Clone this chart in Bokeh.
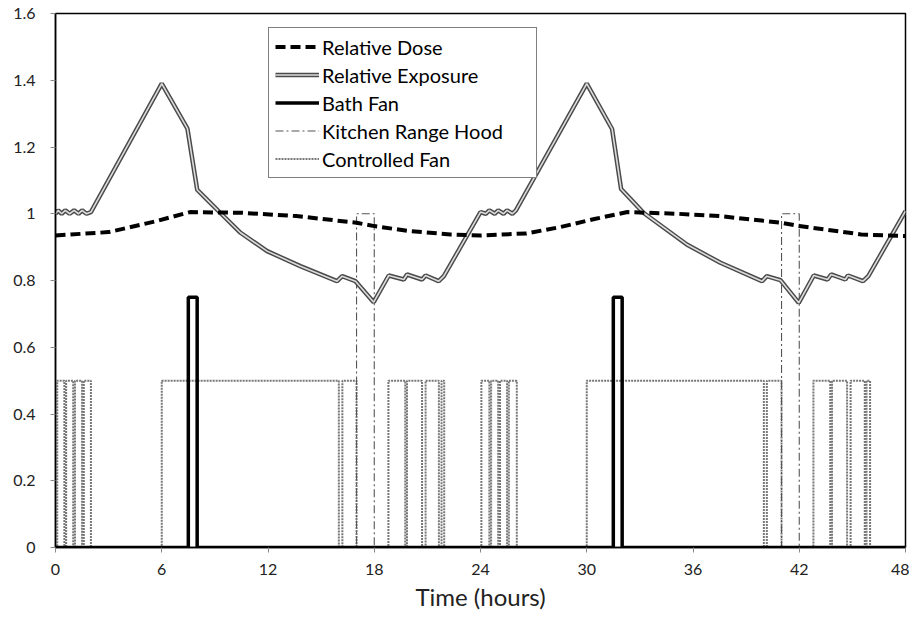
from bokeh.plotting import figure
from bokeh.models import Range1d, FixedTicker, CustomJSTickFormatter, Legend, LegendItem
from bokeh.embed import file_html
from bokeh.resources import INLINE

# ---- data ----
exp_t = [0, 0.15, 0.35, 0.55, 0.8, 1.05, 1.3, 1.5, 1.75, 2.0, 6.0, 7.45, 8.0, 8.6, 9.3, 10.45,
         11.95, 13.83, 15.9, 16.19, 16.94, 17.97, 18.82, 19.67, 19.85, 20.7, 20.9, 21.64, 21.93,
         24.0, 24.3, 24.5, 24.8, 25.0, 25.3, 25.5, 25.8, 26.0, 30.0, 31.43, 31.94, 32.6, 33.2,
         35.65, 37.55, 39.9, 40.17, 40.94, 41.97, 42.82, 43.6, 43.8, 44.6, 44.75, 45.6, 45.9, 48.0]
exp_v = [1.0, 1.01, 1.0, 1.01, 1.0, 1.01, 1.0, 1.01, 1.0, 1.005, 1.39, 1.255, 1.072, 1.04, 1.003, 0.943,
         0.888, 0.843, 0.798, 0.813, 0.798, 0.735, 0.815, 0.803, 0.818, 0.803, 0.815, 0.798, 0.813,
         1.005, 1.0, 1.01, 1.0, 1.01, 1.0, 1.01, 1.0, 1.01, 1.39, 1.254, 1.074, 1.037, 1.003,
         0.908, 0.853, 0.798, 0.813, 0.801, 0.733, 0.815, 0.803, 0.818, 0.803, 0.815, 0.798, 0.813, 1.008]

dose_t = [0, 3.0, 5.7, 7.6, 10.5, 13.6, 17.0, 18.0, 20.0, 22.3, 24.0, 26.6, 28.5, 30.5,
          32.3, 35.1, 37.5, 41.0, 42.0, 45.5, 48.0]
dose_v = [0.935, 0.945, 0.978, 1.005, 1.003, 0.993, 0.973, 0.963, 0.948, 0.938, 0.935, 0.941,
          0.96, 0.985, 1.005, 1.0, 0.993, 0.973, 0.963, 0.938, 0.933]

bath_start = [7.5, 31.5]
bath_end = [8.0, 32.0]
bath_level = 0.75

hood_start = [17.0, 41.0]
hood_end = [18.0, 42.0]
hood_level = 1.0

fan_start = [0.1, 0.6, 1.1, 1.6, 6.0, 16.2, 18.8, 19.85, 20.9, 21.8,
             24.05, 24.6, 25.1, 25.6, 30.0, 40.17, 42.8, 43.85, 44.9, 45.8]
fan_end = [0.5, 1.0, 1.5, 2.0, 16.0, 17.0, 19.75, 20.7, 21.65, 21.95,
           24.5, 25.0, 25.5, 26.05, 40.0, 41.0, 43.75, 44.7, 45.7, 46.0]
fan_level = 0.5

x_ticks = [0, 6, 12, 18, 24, 30, 36, 42, 48]
y_ticks = [0, 0.2, 0.4, 0.6, 0.8, 1.0, 1.2, 1.4, 1.6]
T_MAX = 48


def pulses(starts, ends, level):
    t, v = [0], [0]
    for s, e in zip(starts, ends):
        t += [s, s, e, e]
        v += [0, level, level, 0]
    t.append(T_MAX)
    v.append(0)
    return t, v


bath_t, bath_v = pulses(bath_start, bath_end, bath_level)
hood_t, hood_v = pulses(hood_start, hood_end, hood_level)
fan_t, fan_v = pulses(fan_start, fan_end, fan_level)

FONT = "Lato"

p = figure(width=909, height=626, output_backend="svg", toolbar_location=None,
           x_range=Range1d(0, 48), y_range=Range1d(0, 1.6),
           min_border_left=55, min_border_right=4, min_border_top=13, min_border_bottom=79)
p.background_fill_color = "white"
p.border_fill_color = "white"
p.outline_line_color = "black"
p.outline_line_width = 1.5
p.xgrid.visible = False
p.ygrid.visible = False

r_fan = p.line(fan_t, fan_v, line_color="#777777", line_width=2, line_dash="2 1")
r_hood = p.line(hood_t, hood_v, line_color="#555555", line_width=1.1, line_dash="8 3 2 3")
r_exp_o = p.line(exp_t, exp_v, line_color="#4a4a4a", line_width=4.5)
r_exp_i = p.line(exp_t, exp_v, line_color="#dcdcdc", line_width=1.6)
r_bath = p.line(bath_t, bath_v, line_color="black", line_width=3.5)
r_dose = p.line(dose_t, dose_v, line_color="black", line_width=4, line_dash="10 5")

for ax in (p.xaxis[0], p.yaxis[0]):
    ax.axis_line_color = "black"
    ax.axis_line_width = 1.5
    ax.major_tick_in = 0
    ax.major_tick_out = 5
    ax.major_tick_line_color = "#888888"
    ax.minor_tick_line_color = None
    ax.major_label_text_font = FONT
    ax.major_label_text_font_size = "16px"
    ax.major_label_text_color = "#222222"

p.xaxis.ticker = FixedTicker(ticks=x_ticks)
p.yaxis.ticker = FixedTicker(ticks=y_ticks)
p.yaxis.formatter = CustomJSTickFormatter(code="return tick.toFixed(1).replace(/\\.0$/, '');")
p.xaxis.major_label_standoff = 11
p.yaxis.major_label_standoff = 15
p.xaxis.axis_label = "Time (hours)"
p.xaxis.axis_label_text_font = FONT
p.xaxis.axis_label_text_font_size = "24px"
p.xaxis.axis_label_text_font_style = "normal"
p.xaxis.axis_label_text_color = "#222222"
p.xaxis.axis_label_standoff = 4

legend = Legend(items=[
    LegendItem(label="Relative Dose", renderers=[r_dose]),
    LegendItem(label="Relative Exposure", renderers=[r_exp_o, r_exp_i]),
    LegendItem(label="Bath Fan", renderers=[r_bath]),
    LegendItem(label="Kitchen Range Hood", renderers=[r_hood]),
    LegendItem(label="Controlled Fan", renderers=[r_fan]),
], location=(213, 369))
legend.label_text_font = FONT
legend.label_text_font_size = "20px"
legend.label_text_color = "black"
legend.glyph_width = 44
legend.glyph_height = 25
legend.label_height = 25
legend.label_standoff = 3
legend.spacing = 3
legend.padding = 6
legend.margin = 0
legend.label_width = 208
legend.border_line_color = "black"
legend.border_line_width = 1
legend.background_fill_color = "white"
legend.background_fill_alpha = 1
p.add_layout(legend, "center")

open("out.html", "w").write(file_html(p, INLINE))
